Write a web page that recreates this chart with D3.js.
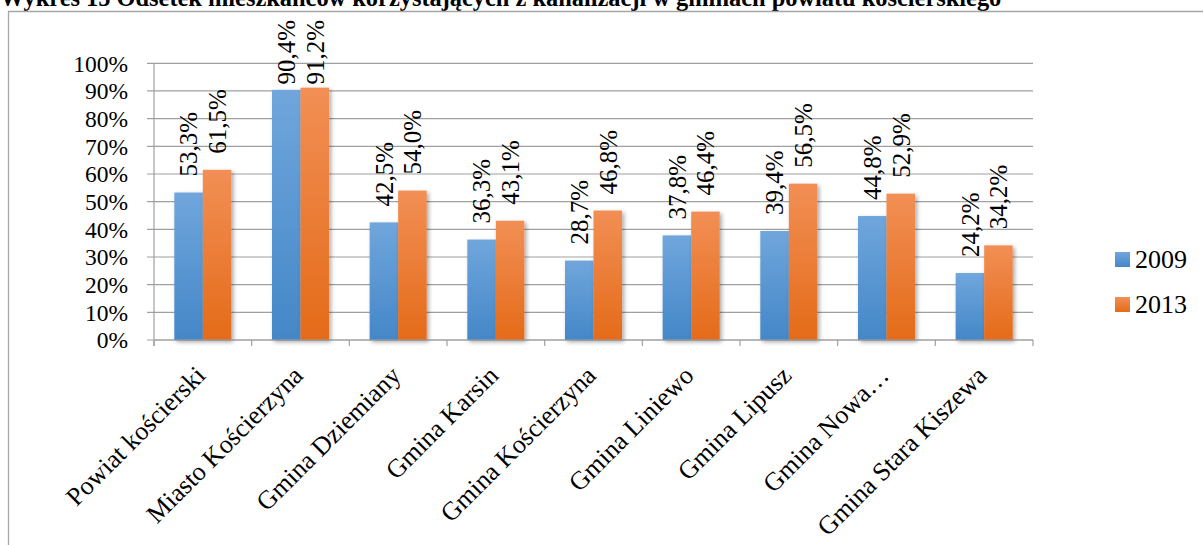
<!DOCTYPE html>
<html>
<head>
<meta charset="utf-8">
<script src="https://cdn.jsdelivr.net/npm/d3@7"></script>
<style>
  html, body { margin: 0; padding: 0; background: #fff; overflow: hidden; }
  svg text { font-family: "Liberation Serif", "Times New Roman", serif; }
</style>
</head>
<body>
<div id="chart"></div>
<script>
// Dane
const title = "Wykres 15 Odsetek mieszkańców korzystających z kanalizacji w gminach powiatu kościerskiego";
const categories = ["Powiat kościerski", "Miasto Kościerzyna", "Gmina Dziemiany", "Gmina Karsin",
  "Gmina Kościerzyna", "Gmina Liniewo", "Gmina Lipusz", "Gmina Nowa…", "Gmina Stara Kiszewa"];
const seriesNames = ["2009", "2013"];
const values2009 = [53.3, 90.4, 42.5, 36.3, 28.7, 37.8, 39.4, 44.8, 24.2];
const values2013 = [61.5, 91.2, 54.0, 43.1, 46.8, 46.4, 56.5, 52.9, 34.2];
const yTicks = [0, 10, 20, 30, 40, 50, 60, 70, 80, 90, 100];

const width = 1203, height = 545;
const marginTop = 63.3, marginLeft = 154, plotRight = 1033, plotBottom = 340;
const serif = "Liberation Serif";

const data = categories.map((c, i) => ({cat: c, "2009": values2009[i], "2013": values2013[i]}));

const pl = d3.formatLocale({decimal: ",", thousands: " ", grouping: [3], currency: ["", " zł"]});
const fmt = v => pl.format(".1f")(v) + "%";

const svg = d3.select("#chart").append("svg")
    .attr("width", width)
    .attr("height", height)
    .attr("viewBox", [0, 0, width, height])
    .attr("font-family", serif);

// Gradienty i cień
const defs = svg.append("defs");
const grads = {
  "2009": ["#70a6dc", "#4487c8"],
  "2013": ["#f28f55", "#e46b19"]
};
for (const k of seriesNames) {
  const g = defs.append("linearGradient").attr("id", "g" + k)
      .attr("x1", 0).attr("y1", 0).attr("x2", 0).attr("y2", 1);
  g.append("stop").attr("offset", "0%").attr("stop-color", grads[k][0]);
  g.append("stop").attr("offset", "100%").attr("stop-color", grads[k][1]);
}
defs.append("filter").attr("id", "shadow").attr("x", "-20%").attr("y", "-20%")
    .attr("width", "150%").attr("height", "150%")
  .append("feDropShadow").attr("dx", 2).attr("dy", 2).attr("stdDeviation", 2)
    .attr("flood-color", "#000").attr("flood-opacity", 0.35);

// Tytuł (przycięty u góry, jak w oryginale)
svg.append("text")
    .attr("x", 0).attr("y", 6)
    .attr("font-family", serif)
    .attr("font-size", 24.4).attr("font-weight", "bold")
    .text(title);

// Ramka wykresu
svg.append("path")
    .attr("d", `M8.5,${height + 5}V11.5H${width + 5}`)
    .attr("fill", "none").attr("stroke", "#a6a6a6").attr("stroke-width", 1.3);

// Skale
const x0 = d3.scaleBand()
    .domain(categories)
    .range([marginLeft, plotRight])
    .paddingInner(0.416)
    .paddingOuter(0.208);

const x1 = d3.scaleBand()
    .domain(seriesNames)
    .range([0, x0.bandwidth()]);

const y = d3.scaleLinear()
    .domain([0, 100])
    .range([plotBottom, marginTop]);

// Linie siatki
svg.append("g")
    .attr("stroke", "#a0a0a0").attr("stroke-width", 1.2)
  .selectAll("line")
  .data(yTicks)
  .join("line")
    .attr("x1", marginLeft - 7).attr("x2", plotRight)
    .attr("y1", d => y(d)).attr("y2", d => y(d));

// Oś Y
svg.append("g")
    .attr("transform", `translate(${marginLeft},0)`)
    .call(d3.axisLeft(y).tickValues(yTicks).tickSize(0).tickPadding(26).tickFormat(d => d + "%"))
    .attr("font-family", serif).attr("font-size", 23.5)
    .call(g => g.select(".domain").remove())
    .call(g => g.selectAll("text").attr("fill", "#000").attr("dy", "0.33em"));

svg.append("line")
    .attr("x1", marginLeft).attr("x2", marginLeft)
    .attr("y1", y(100)).attr("y2", plotBottom + 6)
    .attr("stroke", "#a0a0a0").attr("stroke-width", 1.2);

// Słupki
svg.append("g")
  .selectAll("g")
  .data(data)
  .join("g")
    .attr("transform", d => `translate(${x0(d.cat)},0)`)
  .selectAll("rect")
  .data(d => seriesNames.map(k => ({key: k, value: d[k]})))
  .join("rect")
    .attr("x", d => x1(d.key))
    .attr("y", d => y(d.value))
    .attr("width", x1.bandwidth())
    .attr("height", d => y(0) - y(d.value))
    .attr("fill", d => `url(#g${d.key})`)
    .attr("filter", "url(#shadow)");

// Oś X
svg.append("line")
    .attr("x1", marginLeft).attr("x2", plotRight)
    .attr("y1", plotBottom).attr("y2", plotBottom)
    .attr("stroke", "#a0a0a0").attr("stroke-width", 1.2);

svg.append("g")
    .attr("stroke", "#a0a0a0").attr("stroke-width", 1.2)
  .selectAll("line")
  .data(d3.range(categories.length + 1))
  .join("line")
    .attr("x1", i => marginLeft + i * x0.step())
    .attr("x2", i => marginLeft + i * x0.step())
    .attr("y1", plotBottom).attr("y2", plotBottom + 6);

svg.append("g")
    .attr("font-family", serif)
    .attr("font-size", 26)
    .attr("text-anchor", "end")
  .selectAll("text")
  .data(categories)
  .join("text")
    .attr("transform", d => `translate(${x0(d) + x0.bandwidth() / 2 + 4},377) rotate(-45)`)
    .text(d => d);

// Etykiety danych
svg.append("g")
    .attr("font-family", serif)
    .attr("font-size", 25)
  .selectAll("g")
  .data(data)
  .join("g")
    .attr("transform", d => `translate(${x0(d.cat)},0)`)
  .selectAll("text")
  .data(d => seriesNames.map(k => ({key: k, value: d[k]})))
  .join("text")
    .attr("dy", "0.35em")
    .text(d => fmt(d.value))
    .attr("transform", function(d) {
      const len = this.getComputedTextLength();
      const start = Math.max(y(d.value) - 16, 20 + len);
      return `translate(${x1(d.key) + x1.bandwidth() / 2},${start}) rotate(-90)`;
    });

// Legenda
const legend = svg.append("g")
    .attr("font-family", serif)
  .selectAll("g")
  .data(seriesNames)
  .join("g")
    .attr("transform", (d, i) => `translate(1115,${252 + i * 45})`);

legend.append("rect")
    .attr("width", 15).attr("height", 15)
    .attr("fill", d => `url(#g${d})`);

legend.append("text")
    .attr("x", 20).attr("y", 16)
    .attr("font-size", 26)
    .text(d => d);
</script>
</body>
</html>
